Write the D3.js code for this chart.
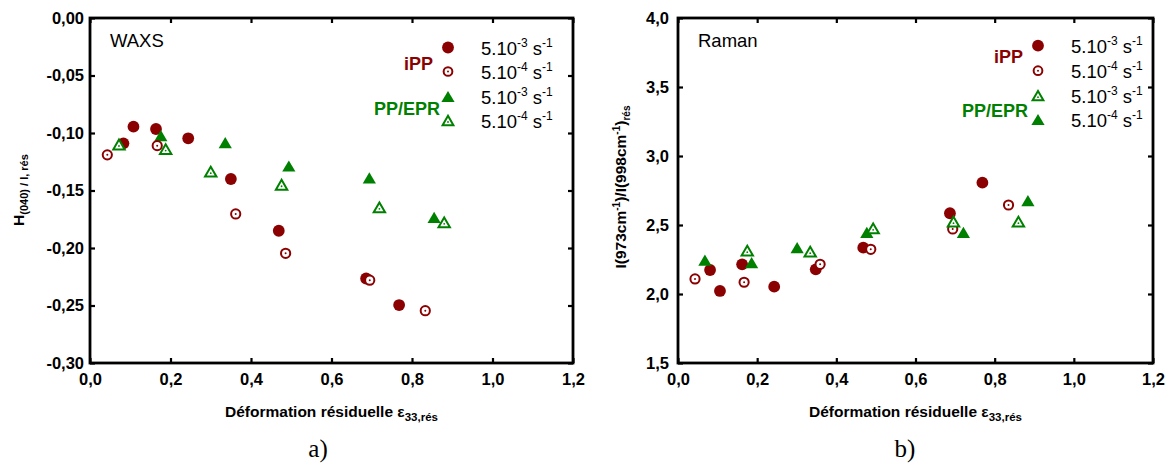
<!DOCTYPE html>
<html><head><meta charset="utf-8">
<script src="https://cdn.jsdelivr.net/npm/d3@7"></script>
<style>body{margin:0;background:#fff}svg{display:block}</style>
</head><body>
<svg id="chart" width="1170" height="470"></svg>
<script>
// ---------- DATA ----------
const xTickValues = [0, 0.2, 0.4, 0.6, 0.8, 1.0, 1.2];
const xTickLabels = ["0,0", "0,2", "0,4", "0,6", "0,8", "1,0", "1,2"];
const waxsYTickValues = [-0.30, -0.25, -0.20, -0.15, -0.10, -0.05, 0];
const waxsYTickLabels = ["-0,30", "-0,25", "-0,20", "-0,15", "-0,10", "-0,05", "0,00"];
const ramanYTickValues = [1.5, 2.0, 2.5, 3.0, 3.5, 4.0];
const ramanYTickLabels = ["1,5", "2,0", "2,5", "3,0", "3,5", "4,0"];

// a) WAXS
const waxsIPP_e3_x = [0.083, 0.108, 0.164, 0.244, 0.350, 0.469, 0.686, 0.768];
const waxsIPP_e3_y = [-0.109, -0.0945, -0.0965, -0.1046, -0.140, -0.185, -0.2265, -0.2496];
const waxsIPP_e4_x = [0.043, 0.167, 0.362, 0.486, 0.695, 0.833];
const waxsIPP_e4_y = [-0.119, -0.111, -0.1704, -0.2046, -0.228, -0.2545];
const waxsEPR_e3_x = [0.176, 0.336, 0.494, 0.694, 0.855];
const waxsEPR_e3_y = [-0.1023, -0.1084, -0.1287, -0.139, -0.1733];
const waxsEPR_e4_x = [0.072, 0.188, 0.300, 0.476, 0.719, 0.880];
const waxsEPR_e4_y = [-0.110, -0.114, -0.1336, -0.145, -0.1646, -0.1777];

// b) Raman
const ramanIPP_e3_x = [0.081, 0.106, 0.162, 0.243, 0.348, 0.468, 0.687, 0.769];
const ramanIPP_e3_y = [2.174, 2.022, 2.215, 2.053, 2.179, 2.336, 2.585, 2.807];
const ramanIPP_e4_x = [0.043, 0.167, 0.359, 0.487, 0.694, 0.835];
const ramanIPP_e4_y = [2.109, 2.085, 2.215, 2.324, 2.471, 2.645];
const ramanEPR_e3_x = [0.175, 0.334, 0.493, 0.696, 0.860];           // open triangles
const ramanEPR_e3_y = [2.314, 2.307, 2.476, 2.524, 2.524];
const ramanEPR_e4_x = [0.068, 0.186, 0.301, 0.477, 0.721, 0.884];    // filled triangles
const ramanEPR_e4_y = [2.246, 2.227, 2.336, 2.447, 2.447, 2.676];

const legendRates = ["-3", "-4", "-3", "-4"];
const groupNames = ["iPP", "PP/EPR"];

// ---------- STYLE ----------
const RED = "#8b0000", GREEN = "#008000";
const FONT = "'Liberation Sans', Arial, Helvetica, sans-serif";
const svg = d3.select("#chart").style("font-family", FONT);

function drawMarker(g, type, cx, cy, scale) {
  const s = scale || 1;
  if (type === "fc") {
    g.append("circle").attr("cx", cx).attr("cy", cy).attr("r", 5.9 * s).attr("fill", RED);
  } else if (type === "oc") {
    g.append("circle").attr("cx", cx).attr("cy", cy).attr("r", 4.6 * s)
      .attr("fill", "#fff").attr("stroke", RED).attr("stroke-width", 2);
    g.append("circle").attr("cx", cx).attr("cy", cy).attr("r", 1).attr("fill", RED);
  } else if (type === "ft") {
    const w = 6.6 * s, h = 5.6 * s;
    g.append("path").attr("d", `M${cx},${cy - h}L${cx + w},${cy + h}L${cx - w},${cy + h}Z`).attr("fill", GREEN);
  } else if (type === "ot") {
    const w = 5.7 * s, h = 4.9 * s;
    g.append("path").attr("d", `M${cx},${cy - h}L${cx + w},${cy + h}L${cx - w},${cy + h}Z`)
      .attr("fill", "#fff").attr("stroke", GREEN).attr("stroke-width", 2).attr("stroke-linejoin", "miter");
    g.append("circle").attr("cx", cx).attr("cy", cy + 1.5).attr("r", 0.9).attr("fill", GREEN);
  }
}

function panel(opt) {
  const { left, right, top, bottom } = opt;
  const x = d3.scaleLinear().domain([0, 1.2]).range([left, right]);
  const y = d3.scaleLinear().domain(opt.yDomain).range([bottom, top]);
  const g = svg.append("g");

  const tickStyle = sel => {
    sel.select(".domain").remove();
    sel.selectAll(".tick line").attr("stroke", "#000").attr("stroke-width", 2.2);
    sel.selectAll(".tick text").attr("font-family", FONT).attr("font-size", 16.5)
      .attr("font-weight", "bold").attr("fill", "#000");
  };
  // bottom
  g.append("g").attr("transform", `translate(0,${bottom})`)
    .call(d3.axisBottom(x).tickValues(xTickValues).tickSizeInner(-5).tickSizeOuter(0)
      .tickPadding(10).tickFormat((d, i) => xTickLabels[i]))
    .call(tickStyle);
  // top
  g.append("g").attr("transform", `translate(0,${top})`)
    .call(d3.axisTop(x).tickValues(xTickValues).tickSizeInner(-5).tickSizeOuter(0).tickFormat(""))
    .call(tickStyle);
  // left
  g.append("g").attr("transform", `translate(${left},0)`)
    .call(d3.axisLeft(y).tickValues(opt.yTicks).tickSizeInner(-5).tickSizeOuter(0)
      .tickPadding(opt.yPad).tickFormat((d, i) => opt.yLabels[i]))
    .call(tickStyle);
  // right
  g.append("g").attr("transform", `translate(${right},0)`)
    .call(d3.axisRight(y).tickValues(opt.yTicks).tickSizeInner(-5).tickSizeOuter(0).tickFormat(""))
    .call(tickStyle);
  // frame
  g.append("rect").attr("x", left).attr("y", top).attr("width", right - left).attr("height", bottom - top)
    .attr("fill", "none").attr("stroke", "#000").attr("stroke-width", 2.8);

  // data
  const dg = g.append("g");
  opt.series.forEach(s => {
    s.x.forEach((v, i) => drawMarker(dg, s.type, x(v), y(s.y[i])));
  });

  // inner label
  g.append("text").attr("x", left + 20).attr("y", top + 29).attr("font-size", 18.5).text(opt.tag);

  // legend
  const lg = g.append("g");
  opt.legendRows.forEach((r, i) => {
    drawMarker(lg, r.type, opt.legX, opt.legY[i], r.type[0] === "o" ? 0.95 : 1);
    const t = lg.append("text").attr("x", opt.legX + 33).attr("y", opt.legY[i] + 7).attr("font-size", 18.5);
    t.append("tspan").text("5.10");
    t.append("tspan").attr("font-size", 12).attr("dy", -8).text(legendRates[i]);
    t.append("tspan").attr("dy", 8).text(" s");
    t.append("tspan").attr("font-size", 12).attr("dy", -8).text("-1");
  });
  lg.append("text").attr("x", opt.ippX).attr("y", opt.ippY).attr("text-anchor", "end")
    .attr("font-size", 18).attr("font-weight", "bold").attr("fill", RED).text(groupNames[0]);
  lg.append("text").attr("x", opt.eprX).attr("y", opt.eprY).attr("text-anchor", "end")
    .attr("font-size", 18).attr("font-weight", "bold").attr("fill", GREEN).text(groupNames[1]);

  // x title
  const xt = g.append("text").attr("x", (left + right) / 2).attr("y", 417).attr("text-anchor", "middle")
    .attr("font-size", 15.5).attr("font-weight", "bold");
  xt.append("tspan").text("Déformation résiduelle ε");
  xt.append("tspan").attr("font-size", 11.5).attr("dy", 4).text("33,rés");

  // panel letter
  g.append("text").attr("x", opt.letterX).attr("y", 457).attr("text-anchor", "middle")
    .attr("font-family", "'Liberation Serif', 'Times New Roman', serif").attr("font-size", 25).text(opt.letter);
  return g;
}

const gA = panel({
  left: 90, right: 573, top: 18, bottom: 363,
  yDomain: [-0.30, 0], yTicks: waxsYTickValues, yLabels: waxsYTickLabels, yPad: 6,
  series: [
    { type: "fc", x: waxsIPP_e3_x, y: waxsIPP_e3_y },
    { type: "ft", x: waxsEPR_e3_x, y: waxsEPR_e3_y },
    { type: "oc", x: waxsIPP_e4_x, y: waxsIPP_e4_y },
    { type: "ot", x: waxsEPR_e4_x, y: waxsEPR_e4_y }
  ],
  tag: "WAXS",
  legendRows: [{ type: "fc" }, { type: "oc" }, { type: "ft" }, { type: "ot" }],
  legX: 448, legY: [47.5, 71.5, 96.5, 120.5],
  ippX: 433, ippY: 70, eprX: 440, eprY: 115,
  letter: "a)", letterX: 318
});
// y title a
const ta = svg.append("text").attr("transform", "translate(24,190) rotate(-90)")
  .attr("text-anchor", "middle").attr("font-weight", "bold").attr("font-size", 15.5);
ta.append("tspan").text("H");
ta.append("tspan").attr("font-size", 11).attr("dy", 4).text("(040) / I, rés");

const gB = panel({
  left: 678, right: 1153, top: 18, bottom: 363,
  yDomain: [1.5, 4.0], yTicks: ramanYTickValues, yLabels: ramanYTickLabels, yPad: 9,
  series: [
    { type: "fc", x: ramanIPP_e3_x, y: ramanIPP_e3_y },
    { type: "ft", x: ramanEPR_e4_x, y: ramanEPR_e4_y },
    { type: "oc", x: ramanIPP_e4_x, y: ramanIPP_e4_y },
    { type: "ot", x: ramanEPR_e3_x, y: ramanEPR_e3_y }
  ],
  tag: "Raman",
  legendRows: [{ type: "fc" }, { type: "oc" }, { type: "ot" }, { type: "ft" }],
  legX: 1038, legY: [45.7, 70.7, 95.7, 119.5],
  ippX: 1023, ippY: 63, eprX: 1028, eprY: 117,
  letter: "b)", letterX: 905
});
// y title b
const tb = svg.append("text").attr("transform", "translate(626,187) rotate(-90)")
  .attr("text-anchor", "middle").attr("font-weight", "bold").attr("font-size", 15.5);
tb.append("tspan").text("I(973cm");
tb.append("tspan").attr("font-size", 10).attr("dy", -6).text("-1");
tb.append("tspan").attr("dy", 6).text(")/I(998cm");
tb.append("tspan").attr("font-size", 10).attr("dy", -6).text("-1");
tb.append("tspan").attr("dy", 6).text(")");
tb.append("tspan").attr("font-size", 10).attr("dy", 4).text("rés");
</script>
</body></html>
